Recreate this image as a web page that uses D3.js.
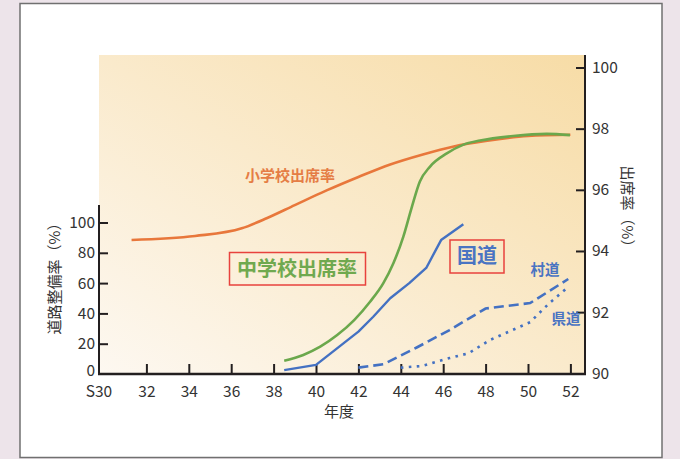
<!DOCTYPE html>
<html>
<head>
<meta charset="utf-8">
<script src="https://cdn.jsdelivr.net/npm/d3@7"></script>
<style>
  html, body { margin: 0; padding: 0; background: #ede4ea; }
  svg { display: block; font-family: "Noto Sans CJK JP", "Noto Sans", sans-serif; }
</style>
</head>
<body>
<svg id="chart" width="680" height="459"></svg>
<script>
// 年度 (昭和) tick labels
const yearTicks = [30, 32, 34, 36, 38, 40, 42, 44, 46, 48, 50, 52];
const roadTicks = [0, 20, 40, 60, 80, 100];
const attendTicks = [90, 92, 94, 96, 98, 100];

// 出席率 (%) — right axis
const elementary = [[31.3, 94.36], [34.3, 94.49], [36.5, 94.74], [37.7, 95.08], [39.0, 95.5],
  [40.5, 95.98], [42.0, 96.42], [43.5, 96.83], [45.0, 97.15], [46.5, 97.42], [48.0, 97.6],
  [50.0, 97.76], [52.0, 97.8]];
const juniorHigh = [[38.5, 90.41], [39.4, 90.6], [40.2, 90.87], [41.0, 91.25], [41.8, 91.74],
  [42.55, 92.34], [43.17, 92.94], [43.65, 93.6], [44.12, 94.47], [44.51, 95.41], [44.9, 96.27],
  [45.38, 96.76], [46.17, 97.19], [46.93, 97.47], [47.74, 97.61], [49.3, 97.76], [50.88, 97.83],
  [51.98, 97.79]];

// 道路整備率 (%) — left axis
const national = [[38.5, 2.6], [40.0, 6.0], [42.0, 28.0], [42.7, 37.8], [43.5, 50.0],
  [44.4, 60.0], [45.2, 70.0], [45.9, 88.4], [46.95, 98.8]];
const village = [[42.0, 4.2], [43.2, 6.5], [44.75, 17.5], [46.3, 29.0], [48.0, 43.2],
  [50.1, 46.8], [51.9, 62.7]];
const prefectural = [[44.0, 4.2], [45.0, 5.3], [46.3, 10.5], [47.2, 13.7], [48.2, 22.4],
  [50.1, 34.2], [51.0, 46.7], [51.9, 57.5]];

const svg = d3.select("#chart");

// white panel
svg.append("rect")
  .attr("x", 20).attr("y", 3.5).attr("width", 642).attr("height", 454)
  .attr("fill", "#ffffff").attr("stroke", "#707070").attr("stroke-width", 1.5);

// background gradient of the plot area
const defs = svg.append("defs");
const grad = defs.append("linearGradient").attr("id", "bg")
  .attr("x1", 0).attr("y1", 1).attr("x2", 1).attr("y2", 0);
grad.append("stop").attr("offset", "0%").attr("stop-color", "#fdf8f1");
grad.append("stop").attr("offset", "100%").attr("stop-color", "#f7dca6");

const plot = { left: 99, right: 585, top: 55, bottom: 374 };
svg.append("rect")
  .attr("x", plot.left).attr("y", plot.top)
  .attr("width", plot.right - plot.left).attr("height", plot.bottom - plot.top)
  .attr("fill", "url(#bg)");

// scales
const x = d3.scaleLinear().domain([30, 52]).range([104, 570.4]);
const yL = d3.scaleLinear().domain([0, 100]).range([374, 222.5]);
const yR = d3.scaleLinear().domain([90, 100]).range([373.3, 67.5]);

const axisColor = "#231f20";
const labelColor = "#333333";
const tickFont = 15.5;

// bottom axis
const xAxis = svg.append("g")
  .attr("transform", `translate(0,${plot.bottom})`)
  .call(d3.axisBottom(x).tickValues(yearTicks)
    .tickFormat(d => d === 30 ? "S30" : d)
    .tickSizeInner(-10).tickSizeOuter(0));
xAxis.select(".domain").remove();
xAxis.selectAll(".tick line").attr("stroke", axisColor).attr("stroke-width", 2);
xAxis.selectAll(".tick").filter(d => d === 30).select("line").remove();
xAxis.selectAll(".tick").filter(d => d === 30).select("text").attr("dx", -5.5);
xAxis.selectAll("text").attr("font-size", tickFont).attr("fill", labelColor)
  .attr("font-family", "Noto Sans CJK JP, sans-serif").attr("dy", "0.35em").attr("y", 17.5);

// left axis
const lAxis = svg.append("g")
  .attr("transform", `translate(${plot.left},0)`)
  .call(d3.axisLeft(yL).tickValues(roadTicks)
    .tickSizeInner(-9).tickSizeOuter(0));
lAxis.select(".domain").remove();
lAxis.selectAll(".tick line").attr("stroke", axisColor).attr("stroke-width", 2);
lAxis.selectAll(".tick").filter(d => d === 0).select("line").remove();
lAxis.selectAll("text").attr("font-size", tickFont).attr("fill", labelColor)
  .attr("font-family", "Noto Sans CJK JP, sans-serif").attr("x", -4);
lAxis.selectAll(".tick").filter(d => d === 0).select("text").attr("y", -3);

// right axis
const rAxis = svg.append("g")
  .attr("transform", `translate(${plot.right},0)`)
  .call(d3.axisRight(yR).tickValues(attendTicks)
    .tickSizeInner(-9).tickSizeOuter(0));
rAxis.select(".domain").remove();
rAxis.selectAll(".tick line").attr("stroke", axisColor).attr("stroke-width", 2);
rAxis.selectAll(".tick").filter(d => d === 90).select("line").remove();
rAxis.selectAll("text").attr("font-size", tickFont).attr("fill", labelColor)
  .attr("font-family", "Noto Sans CJK JP, sans-serif").attr("x", 7);

// axis lines
svg.append("line").attr("x1", plot.left).attr("x2", plot.left)
  .attr("y1", 205).attr("y2", plot.bottom + 1)
  .attr("stroke", axisColor).attr("stroke-width", 2);
svg.append("line").attr("x1", plot.right).attr("x2", plot.right)
  .attr("y1", plot.top).attr("y2", plot.bottom + 1)
  .attr("stroke", axisColor).attr("stroke-width", 2);
svg.append("line").attr("x1", plot.left - 1).attr("x2", plot.right + 1)
  .attr("y1", plot.bottom).attr("y2", plot.bottom)
  .attr("stroke", axisColor).attr("stroke-width", 2.5);

// axis titles
svg.append("text").text("年度")
  .attr("x", 339).attr("y", 412).attr("text-anchor", "middle").attr("dy", "0.35em")
  .attr("font-size", 15).attr("fill", labelColor);
svg.append("text").text("道路整備率（%）")
  .attr("transform", "translate(55,275) rotate(-90)")
  .attr("text-anchor", "middle").attr("dy", "0.35em")
  .attr("font-size", 15).attr("fill", labelColor);
svg.append("text").text("出席率（%）")
  .attr("transform", "translate(627,210) rotate(90)")
  .attr("text-anchor", "middle").attr("dy", "0.35em")
  .attr("font-size", 15).attr("fill", labelColor);

// series
const orange = "#e8773b", green = "#6ba84c", blue = "#4471c2";

const smoothR = d3.line().x(d => x(d[0])).y(d => yR(d[1])).curve(d3.curveMonotoneX);
const straightL = d3.line().x(d => x(d[0])).y(d => yL(d[1]));

svg.append("path").datum(elementary).attr("d", smoothR)
  .attr("fill", "none").attr("stroke", orange).attr("stroke-width", 2.6);
svg.append("path").datum(juniorHigh).attr("d", smoothR)
  .attr("fill", "none").attr("stroke", green).attr("stroke-width", 2.6);

svg.append("path").datum(national).attr("d", straightL)
  .attr("fill", "none").attr("stroke", blue).attr("stroke-width", 2.4)
  .attr("stroke-linejoin", "round");
svg.append("path").datum(village).attr("d", straightL)
  .attr("fill", "none").attr("stroke", blue).attr("stroke-width", 2.6)
  .attr("stroke-dasharray", "10,5");
svg.append("path").datum(prefectural).attr("d", straightL)
  .attr("fill", "none").attr("stroke", blue).attr("stroke-width", 2.6)
  .attr("stroke-dasharray", "2.6,5.4");

// series labels
const boxRed = "#e8423d";
svg.append("text").text("小学校出席率")
  .attr("x", 290).attr("y", 176).attr("text-anchor", "middle").attr("dy", "0.35em")
  .attr("font-size", 15).attr("font-weight", "bold").attr("fill", "#e57d45");

svg.append("rect").attr("x", 229.5).attr("y", 252.5).attr("width", 136).attr("height", 32.5)
  .attr("fill", "none").attr("stroke", boxRed).attr("stroke-width", 1.5);
svg.append("text").text("中学校出席率")
  .attr("x", 297).attr("y", 268.5).attr("text-anchor", "middle").attr("dy", "0.35em")
  .attr("font-size", 20).attr("font-weight", "bold").attr("fill", "#70a94f");

svg.append("rect").attr("x", 450).attr("y", 240).attr("width", 54).attr("height", 33)
  .attr("fill", "none").attr("stroke", boxRed).attr("stroke-width", 1.5);
svg.append("text").text("国道")
  .attr("x", 477).attr("y", 255.5).attr("text-anchor", "middle").attr("dy", "0.35em")
  .attr("font-size", 20).attr("font-weight", "bold").attr("fill", "#4a74c2");

svg.append("text").text("村道")
  .attr("x", 545).attr("y", 270).attr("text-anchor", "middle").attr("dy", "0.35em")
  .attr("font-size", 14.5).attr("font-weight", "bold").attr("fill", "#4a74c2");
svg.append("text").text("県道")
  .attr("x", 566).attr("y", 318.5).attr("text-anchor", "middle").attr("dy", "0.35em")
  .attr("font-size", 14.5).attr("font-weight", "bold").attr("fill", "#4a74c2");
</script>
</body>
</html>
